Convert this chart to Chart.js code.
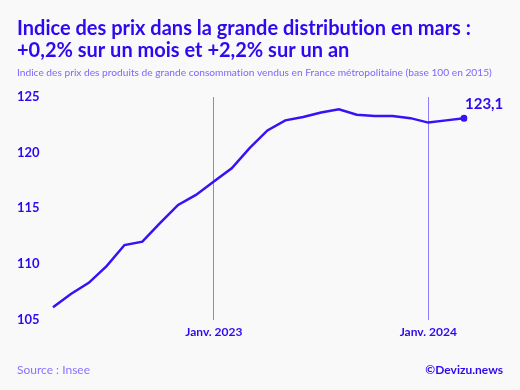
<!DOCTYPE html>
<html>
<head>
<meta charset="utf-8">
<script src="https://cdn.jsdelivr.net/npm/chart.js@4"></script>
<style>
  html, body { margin: 0; padding: 0; background: #f9f9f9; }
  #wrap { width: 520px; height: 390px; position: relative; }
</style>
</head>
<body>
<div id="wrap"><canvas id="c" width="520" height="390"></canvas></div>
<script>
const titleLines = ['Indice des prix dans la grande distribution en mars :', '+0,2% sur un mois et +2,2% sur un an'];
const subtitle = 'Indice des prix des produits de grande consommation vendus en France métropolitaine (base 100 en 2015)';
const sourceText = 'Source : Insee';
const creditText = '©Devizu.news';

const months = ['avr. 2022','mai 2022','juin 2022','juil. 2022','août 2022','sept. 2022','oct. 2022','nov. 2022','déc. 2022',
  'janv. 2023','févr. 2023','mars 2023','avr. 2023','mai 2023','juin 2023','juil. 2023','août 2023','sept. 2023','oct. 2023','nov. 2023','déc. 2023',
  'janv. 2024','févr. 2024','mars 2024'];
const values = [106.1,107.3,108.3,109.8,111.7,112.0,113.7,115.3,116.2,
  117.4,118.6,120.4,122.0,122.9,123.2,123.6,123.9,123.4,123.3,123.3,123.1,
  122.7,122.9,123.1];
const tickLabels = ['','','','','','','','','',
  'Janv. 2023','','','','','','','','','','','',
  'Janv. 2024','',''];
const yTicks = [105,110,115,120,125];

const BLUE = '#3008f0';
const LINE = '#3a10f5';
const GRID = '#8d7eff';
const LIGHT = '#7e66ff';
const FONT = 'Lato, "Open Sans", sans-serif';

const textPlugin = {
  id: 'texts',
  beforeDraw(chart) {
    const ctx = chart.ctx;
    ctx.save();
    ctx.fillStyle = '#f9f9f9';
    ctx.fillRect(0, 0, chart.width, chart.height);
    ctx.restore();
  },
  afterDraw(chart) {
    const ctx = chart.ctx;
    ctx.save();
    try { ctx.textRendering = 'optimizeSpeed'; } catch (e) {}
    ctx.textBaseline = 'middle';
    ctx.textAlign = 'left';
    ctx.fillStyle = BLUE;
    ctx.font = 'bold 20px ' + FONT;
    ctx.fillText(titleLines[0], 17, 29);
    ctx.fillText(titleLines[1], 17, 51);
    ctx.fillStyle = LIGHT;
    ctx.font = '10.2px ' + FONT;
    ctx.fillText(subtitle, 17, 73);
    ctx.font = '12px ' + FONT;
    ctx.fillStyle = '#8a72ff';
    ctx.fillText(sourceText, 17, 370);
    ctx.textAlign = 'right';
    ctx.fillStyle = BLUE;
    ctx.font = 'bold 12px ' + FONT;
    ctx.fillText(creditText, 503, 370);
    // end label
    const meta = chart.getDatasetMeta(0);
    const last = meta.data[meta.data.length - 1];
    ctx.textAlign = 'left';
    ctx.font = 'bold 15px ' + FONT;
    ctx.fillStyle = BLUE;
    ctx.fillText(values[values.length - 1].toFixed(1).replace('.', ','), last.x + 1, last.y - 14);
    ctx.restore();
  }
};

new Chart(document.getElementById('c'), {
  type: 'line',
  data: {
    labels: months,
    datasets: [{
      data: values,
      borderColor: LINE,
      backgroundColor: LINE,
      borderWidth: 2.5,
      tension: 0,
      pointRadius: (c) => c.dataIndex === values.length - 1 ? 3.5 : 0,
      pointHoverRadius: 0,
      pointBorderWidth: 0
    }]
  },
  options: {
    responsive: false,
    animation: false,
    events: [],
    layout: { padding: { top: 97, left: 17, right: 56, bottom: 46 } },
    plugins: { legend: { display: false }, tooltip: { enabled: false }, title: { display: false } },
    scales: {
      x: {
        type: 'category',
        offset: false,
        border: { display: false },
        grid: {
          drawTicks: false,
          lineWidth: 1,
          color: (c) => (c.tick && tickLabels[c.index]) ? GRID : 'rgba(0,0,0,0)'
        },
        ticks: {
          autoSkip: false,
          maxRotation: 0,
          padding: 5,
          color: BLUE,
          font: { family: FONT, weight: 'bold', size: 12 },
          callback: (v, i) => tickLabels[i]
        }
      },
      y: {
        min: 105,
        max: 125,
        afterFit: (s) => { s.width = 36; },
        afterBuildTicks: (s) => { s.ticks = yTicks.map(v => ({ value: v })); },
        border: { display: false },
        grid: { display: false },
        ticks: {
          crossAlign: 'far',
          color: BLUE,
          font: { family: FONT, weight: 'bold', size: 13 }
        }
      }
    }
  },
  plugins: [textPlugin]
});
</script>
</body>
</html>
